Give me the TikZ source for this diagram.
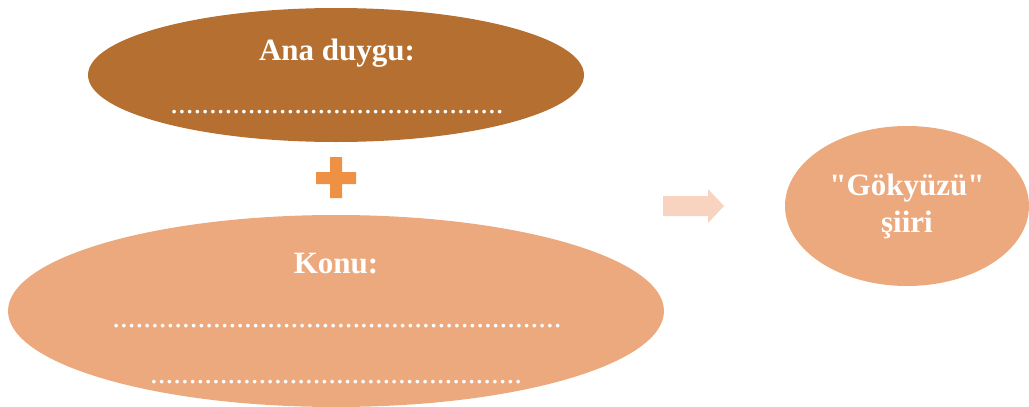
\documentclass[tikz,border=0pt]{standalone}
\usepackage{fontspec}
\setmainfont{Liberation Serif}
\usepackage{tikz}
\definecolor{kahve}{HTML}{B46F31}
\definecolor{acikturuncu}{HTML}{EDA97E}
\definecolor{turuncu}{HTML}{EE9145}
\definecolor{pembe}{HTML}{F8D3BF}
\newcommand{\noktadizi}[1]{\foreach \i in {1,...,#1}{.}}
\tikzset{yazi/.style={text=white,font=\fontsize{31}{37}\selectfont\bfseries,inner sep=0pt,align=center},
  satir/.style={yazi,anchor=base},
  noktali/.style={satir,font=\fontsize{31}{37}\selectfont}}

\begin{document}
\begin{tikzpicture}[x=1pt,y=-1pt]
    \useasboundingbox (0,0) rectangle (1029,407);
    \fill[kahve] (336,75) ellipse (248 and 67);
    \fill[acikturuncu] (336,311) ellipse (328 and 96);
    \fill[acikturuncu] (907,206) ellipse (122 and 80);
    \fill[turuncu] (330,157) rectangle (342,198) (316,172) rectangle (356,184);
    \fill[pembe] (663,196) -- (708,196) -- (708,189) -- (724,206) -- (708,223) -- (708,216) -- (663,216) -- cycle;
    \node[satir] (anaduygu) at (337,60) {Ana duygu:};
    \node[noktali] (nokta1) at (337,113) {\noktadizi{43}};
    \node[satir] (konu) at (336,273) {Konu:};
    \node[noktali] (nokta2) at (337,327) {\noktadizi{58}};
    \node[noktali] (nokta3) at (336,383) {\noktadizi{48}};
    \node[yazi] (siir) at (907,206) {\textquotedbl Gökyüzü\textquotedbl\\şiiri};
\end{tikzpicture}
\end{document}
